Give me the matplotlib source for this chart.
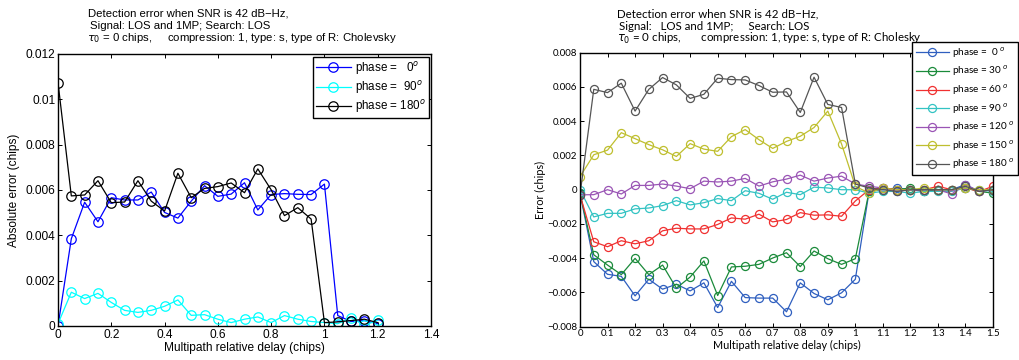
import numpy as np
import matplotlib
matplotlib.use("Agg")
import matplotlib.pyplot as plt

# ---------------- data: left panel ----------------
delay_left = [0, 0.05, 0.1, 0.15, 0.2, 0.25, 0.3, 0.35, 0.4, 0.45, 0.5, 0.55, 0.6,
              0.65, 0.7, 0.75, 0.8, 0.85, 0.9, 0.95, 1.0, 1.05, 1.1, 1.15, 1.2]
abs_err_0 = [0.0, 0.00385, 0.00546, 0.0046, 0.00566, 0.00556, 0.00556, 0.00591, 0.00501,
             0.00476, 0.00551, 0.00619, 0.00572, 0.00582, 0.00632, 0.00512, 0.0058,
             0.00584, 0.00581, 0.0058, 0.00626, 0.00046, 0.0002, 0.00024, 0.0001]
abs_err_90 = [0.0001, 0.00149, 0.00121, 0.00144, 0.00104, 0.00069, 0.0006, 0.00069, 0.00087,
              0.00115, 0.00047, 0.0005, 0.0003, 0.00015, 0.0003, 0.0004, 0.00015, 0.00046,
              0.0003, 0.0002, 0.00015, 0.0001, 0.00037, 0.00003, 0.00025]
abs_err_180 = [0.01074, 0.00574, 0.00578, 0.00641, 0.00544, 0.00547, 0.00641, 0.00551, 0.00507,
               0.00674, 0.00566, 0.00607, 0.00615, 0.00631, 0.00588, 0.00693, 0.00601,
               0.00487, 0.00522, 0.00472, 0.00015, 0.00018, 0.00024, 0.0003, 0.00015]
left_labels = ["phase =   0$^{o}$", "phase =  90$^{o}$", "phase = 180$^{o}$"]
left_colors = ["#0000ff", "#00ffff", "#000000"]

# ---------------- data: right panel ----------------
delay_right = [0, 0.05, 0.1, 0.15, 0.2, 0.25, 0.3, 0.35, 0.4, 0.45, 0.5, 0.55, 0.6, 0.65,
               0.7, 0.75, 0.8, 0.85, 0.9, 0.95, 1.0, 1.05, 1.1, 1.15, 1.2, 1.25, 1.3,
               1.35, 1.4, 1.45, 1.5]
err_0 = [-0.0002, -0.0042, -0.00494, -0.00506, -0.0062, -0.00523, -0.00581, -0.00552, -0.00591,
         -0.00544, -0.00688, -0.00535, -0.0063, -0.00633, -0.00633, -0.00713, -0.00544,
         -0.00606, -0.00643, -0.00602, -0.00523, -0.0001, 0.0, 0.0001, 0.0, -0.0001,
         0.0, 0.0, 0.0003, -0.0001, 0.0]
err_30 = [-0.0002, -0.0038, -0.0044, -0.00496, -0.00401, -0.00496, -0.0044, -0.00575, -0.0051,
          -0.00416, -0.00618, -0.00451, -0.00447, -0.00436, -0.00399, -0.00368, -0.00449,
          -0.00358, -0.00403, -0.00436, -0.00403, -0.0001, 0.0001, 0.0, 0.0001, -0.0001,
          0.0, 0.0, 0.0001, -0.0001, -0.0002]
err_60 = [-0.0003, -0.00304, -0.00333, -0.00298, -0.00316, -0.00298, -0.0024, -0.00225, -0.00229,
          -0.00229, -0.00203, -0.00165, -0.00172, -0.00143, -0.00188, -0.00174, -0.00134,
          -0.00149, -0.00147, -0.00155, -0.00066, 0.0, 0.0001, 0.0, 0.0, 0.0,
          0.0002, 0.0, 0.0001, -0.0001, 0.0002]
err_90 = [0.0, -0.00159, -0.00138, -0.00138, -0.00112, -0.00107, -0.00093, -0.00064, -0.00089,
          -0.00076, -0.00052, -0.00064, -0.00006, -0.00021, -0.00056, -0.00015, -0.00029,
          0.00015, 0.0001, 0.0, 0.0, -0.0002, -0.0001, -0.0001, -0.0002, -0.0001,
          -0.0001, -0.0001, 0.0001, 0.0, -0.0001]
err_120 = [-0.0003, -0.00029, 0.0, -0.00025, 0.00025, 0.00025, 0.00033, 0.00021, 0.00006,
           0.0005, 0.00045, 0.0005, 0.00066, 0.00021, 0.00046, 0.00062, 0.00085, 0.0005,
           0.00068, 0.00079, 0.00033, 0.0002, 0.0001, -0.0001, 0.0, 0.0, 0.0,
           -0.00025, 0.0003, -0.0001, 0.0]
err_150 = [0.00076, 0.00204, 0.00231, 0.00333, 0.00298, 0.00263, 0.00233, 0.00194, 0.00269,
           0.00237, 0.00224, 0.0031, 0.00351, 0.00292, 0.00241, 0.00282, 0.00312, 0.00363,
           0.00459, 0.00267, 0.0002, -0.0002, 0.0001, 0.0, 0.0, 0.0001, 0.0,
           0.0, 0.0001, 0.0, 0.0]
err_180 = [-0.0003, 0.00586, 0.00567, 0.00622, 0.00459, 0.00586, 0.00655, 0.00612, 0.00533,
           0.00557, 0.00651, 0.00643, 0.00641, 0.00608, 0.00569, 0.00571, 0.00451, 0.00657,
           0.00498, 0.0048, 0.00033, 0.0001, 0.0, -0.0001, 0.0, 0.0, 0.0,
           0.0, 0.0002, -0.0001, 0.0]
right_labels = ["phase =  0 $^{o}$", "phase = 30 $^{o}$", "phase = 60 $^{o}$",
                "phase = 90 $^{o}$", "phase = 120 $^{o}$", "phase = 150 $^{o}$",
                "phase = 180 $^{o}$"]
right_colors = ["#2f5fbf", "#1a8a3a", "#f03030", "#33c3c3", "#9a55b5", "#bfbf2f", "#555555"]

left_xticks = [0, 0.2, 0.4, 0.6, 0.8, 1.0, 1.2, 1.4]
left_xticklabels = ["0", "0.2", "0.4", "0.6", "0.8", "1", "1.2", "1.4"]
left_yticks = [0, 0.002, 0.004, 0.006, 0.008, 0.01, 0.012]
left_yticklabels = ["0", "0.002", "0.004", "0.006", "0.008", "0.01", "0.012"]
right_xticks = [0, 0.1, 0.2, 0.3, 0.4, 0.5, 0.6, 0.7, 0.8, 0.9, 1.0, 1.1, 1.2, 1.3, 1.4, 1.5]
right_xticklabels = ["0", "0.1", "0.2", "0.3", "0.4", "0.5", "0.6", "0.7", "0.8", "0.9",
                     "1", "1.1", "1.2", "1.3", "1.4", "1.5"]
right_yticks = [-0.008, -0.006, -0.004, -0.002, 0, 0.002, 0.004, 0.006, 0.008]
right_yticklabels = ["\u22120.008", "\u22120.006", "\u22120.004", "\u22120.002", "0",
                     "0.002", "0.004", "0.006", "0.008"]

# ---------------- figure ----------------
W, H = 1019, 360
fig = plt.figure(figsize=(W / 100, H / 100), dpi=100)

def fx(px):
    return px / W

def fy(py):
    return 1 - py / H

LFONT = ["Liberation Sans", "DejaVu Sans"]
RFONT = ["Lato", "DejaVu Sans"]

def style_axes(ax, family, fs):
    for s in ax.spines.values():
        s.set_linewidth(1.0)
        s.set_color("black")
    ax.tick_params(direction="in", top=True, right=True, length=3, width=0.7,
                   labelsize=fs, pad=2)
    for lab in ax.get_xticklabels() + ax.get_yticklabels():
        lab.set_fontfamily(family)

# left axes
axL = fig.add_axes([fx(58), fy(326), fx(431) - fx(58), fy(54) - fy(326)])
for y, c, lab in zip([abs_err_0, abs_err_90, abs_err_180], left_colors, left_labels):
    axL.plot(delay_left, y, color=c, lw=0.9, marker="o", ms=6.8, mfc="none",
             mew=0.9, label=lab)
axL.set_xlim(0, 1.4)
axL.set_ylim(0, 0.012)
axL.set_xticks(left_xticks)
axL.set_xticklabels(left_xticklabels)
axL.set_yticks(left_yticks)
axL.set_yticklabels(left_yticklabels)
style_axes(axL, LFONT, 8.6)
axL.set_xlabel("Multipath relative delay (chips)", family=LFONT, fontsize=8.6, labelpad=1)
axL.set_ylabel("Absolute error (chips)", family=LFONT, fontsize=8.6, labelpad=4)
legL = axL.legend(loc="upper right", bbox_to_anchor=(0.995, 0.99), prop={"family": LFONT, "size": 8.4},
                  frameon=True, fancybox=False, edgecolor="black", framealpha=1,
                  handlelength=3.0, borderpad=0.25, labelspacing=0.2, handletextpad=0.4,
                  borderaxespad=0)
legL.get_frame().set_linewidth(1.0)

fig.text(fx(88), fy(14), "Detection error when SNR is 42 dB\u2212Hz,", family=LFONT,
         fontsize=8.2, ha="left", va="center")
fig.text(fx(90), fy(26), "Signal: LOS and 1MP; Search: LOS", family=LFONT,
         fontsize=8.2, ha="left", va="center")
fig.text(fx(87), fy(38), "$\\tau_0$ = 0 chips,     compression: 1, type: s, type of R: Cholevsky",
         family=LFONT, fontsize=8.2, ha="left", va="center")

# right axes
axR = fig.add_axes([fx(580), fy(326.7), fx(993) - fx(580), fy(52.7) - fy(326.7)])
for y, c, lab in zip([err_0, err_30, err_60, err_90, err_120, err_150, err_180],
                     right_colors, right_labels):
    axR.plot(delay_right, y, color=c, lw=0.9, marker="o", ms=5.8, mfc="none",
             mew=0.9, label=lab)
axR.set_xlim(0, 1.5)
axR.set_ylim(-0.008, 0.008)
axR.set_xticks(right_xticks)
axR.set_xticklabels(right_xticklabels)
axR.set_yticks(right_yticks)
axR.set_yticklabels(right_yticklabels)
style_axes(axR, RFONT, 7)
axR.set_xlabel("Multipath relative delay (chips)", family=RFONT, fontsize=7.8, labelpad=1)
axR.set_ylabel("Error (chips)", family=RFONT, fontsize=7.8, labelpad=1)
legR = fig.legend(*axR.get_legend_handles_labels(), loc="upper left",
                  bbox_to_anchor=(fx(912), fy(42)), prop={"family": RFONT, "size": 7.2},
                  frameon=True, fancybox=False, edgecolor="black", framealpha=1,
                  handlelength=3.3, borderpad=0.35, labelspacing=0.42, handletextpad=0.3,
                  borderaxespad=0)
legR.get_frame().set_linewidth(1.0)

fig.text(fx(617), fy(14), "Detection error when SNR is 42 dB\u2212Hz,", family=RFONT,
         fontsize=8.3, ha="left", va="center")
fig.text(fx(619), fy(26), "Signal:   LOS and 1MP;     Search: LOS", family=RFONT,
         fontsize=8.3, ha="left", va="center")
fig.text(fx(617), fy(38), "$\\tau_0$ = 0 chips,       compression: 1, type: s, type of R: Cholesky",
         family=RFONT, fontsize=8.3, ha="left", va="center")

fig.savefig("out.png", dpi=100)
